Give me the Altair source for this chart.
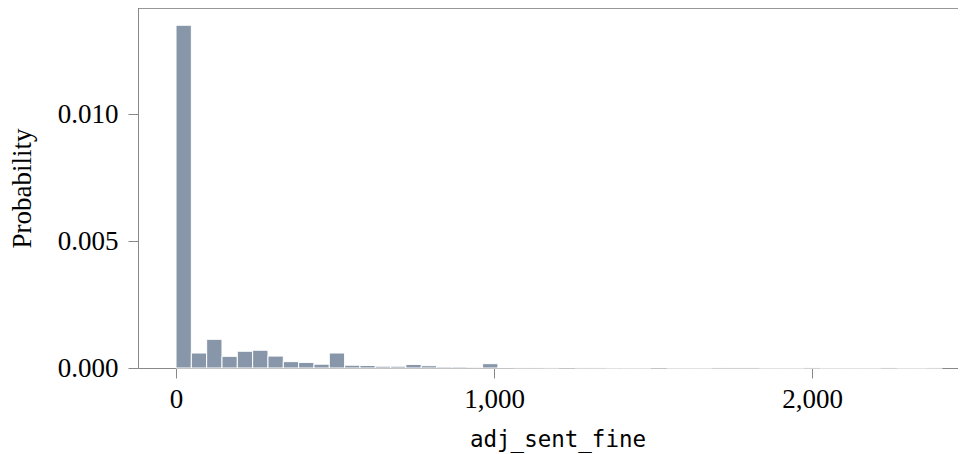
import altair as alt
import pandas as pd

# ---- data ----
bin_width = 48.2
densities = [
    0.0135, 0.00059, 0.00113, 0.00046, 0.00066, 0.00070, 0.00047, 0.00025, 0.00022, 0.00015,
    0.00059, 0.00011, 0.00010, 0.00007, 0.00007, 0.00014, 0.00009, 0.00004, 0.00004, 0.00003,
    0.00017, 0.00002, 0.00001, 0.00001, 0.000005, 0.00002, 0.000005, 0.000005, 0.0, 0.0,
    0.0, 0.00002, 0.0, 0.0, 0.0, 0.00001, 0.00001, 0.00001, 0.0, 0.0,
    0.0, 0.00001, 0.0, 0.0, 0.0, 0.0, 0.00001, 0.0, 0.0, 0.000005,
]
x_ticks = [0, 1000, 2000]
y_ticks = [0.0, 0.005, 0.010]
x_domain = [-119.5, 2459]
y_domain = [0.0, 0.01418]
title_text = "Histogram of log fine amount (all the top values retained, not trimmed)"

df = pd.DataFrame({
    "bin_start": [i * bin_width for i in range(len(densities))],
    "density": densities,
})
df["bin_end"] = df["bin_start"] + bin_width

W, H = 820, 360
SERIF = "Liberation Serif"
MONO = "DejaVu Sans Mono"

bars = alt.Chart(df).mark_bar(
    color="#8796a8", stroke="white", strokeWidth=1
).encode(
    x=alt.X(
        "bin_start:Q",
        scale=alt.Scale(domain=x_domain, nice=False, zero=False),
        axis=alt.Axis(
            values=x_ticks, format=",.0f", title="adj_sent_fine", grid=False,
            tickSize=10, labelPadding=8, labelFont=SERIF, labelFontSize=27,
            labelColor="black", tickColor="#888", domainColor="#888",
            titleFont=MONO, titleFontSize=22.5, titleFontWeight="normal",
            titleColor="black", titleX=419.5, titleY=78, titleBaseline="alphabetic",
        ),
    ),
    x2="bin_end:Q",
    y=alt.Y(
        "density:Q",
        scale=alt.Scale(domain=y_domain, nice=False),
        axis=alt.Axis(
            values=y_ticks, format=".3f", title="Probability", grid=False,
            tickSize=10, labelPadding=10, labelFont=SERIF, labelFontSize=27,
            labelColor="black", tickColor="#888", domainColor="#888",
            titleFont=SERIF, titleFontSize=27, titleFontWeight="normal",
            titleColor="black", titlePadding=21,
        ),
    ),
    y2=alt.datum(0),
)

top_line = alt.Chart(alt.Data(values=[{}])).mark_rule(
    color="#333", strokeWidth=1
).encode(x=alt.value(0), x2=alt.value(W), y=alt.value(0))

chart = alt.layer(bars, top_line).properties(
    width=W,
    height=H,
    title=alt.TitleParams(
        text=title_text, font=SERIF, fontSize=27, fontWeight="normal",
        color="black", anchor="middle", offset=2, dx=-42,
    ),
    autosize=alt.AutoSizeParams(type="none"),
    padding={"left": 130, "top": 0, "right": 0, "bottom": 86},
).configure_view(strokeWidth=0, stroke="transparent")

chart.save("out.html", embed_options={"renderer": "svg", "actions": False})
